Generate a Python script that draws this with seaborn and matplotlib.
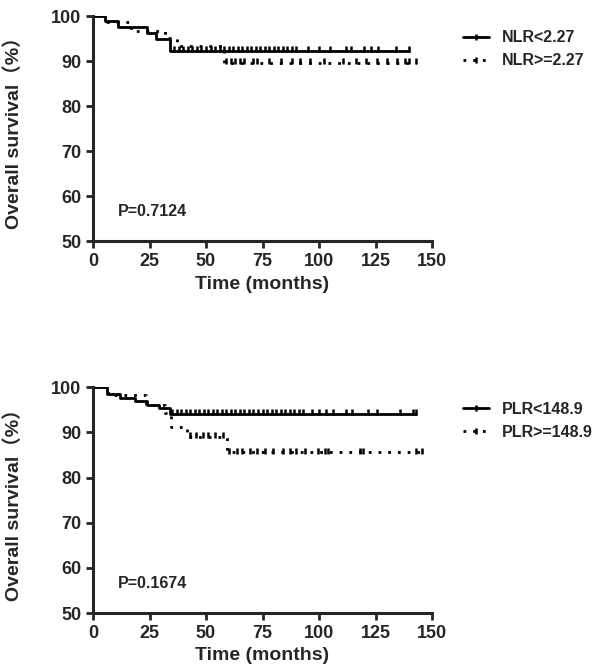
import numpy as np
import pandas as pd
import seaborn as sns
import matplotlib
matplotlib.use("Agg")
import matplotlib.pyplot as plt
from matplotlib.lines import Line2D

# step curves (time in months, survival in %)
nlr_low_t = [0, 5.5, 11, 24, 28, 34, 140]
nlr_low_s = [100, 99.0, 97.6, 96.2, 94.8, 92.3, 92.3]
nlr_high_t = [0, 6, 17, 32, 37, 58, 143]
nlr_high_s = [100, 98.6, 96.6, 95.2, 93.3, 89.6, 89.6]

plr_low_t = [0, 6, 12, 18.5, 24, 29, 34, 143]
plr_low_s = [100, 98.6, 97.7, 97.0, 96.0, 95.3, 94.1, 94.1]
plr_high_t = [0, 6.5, 23.5, 32, 34.5, 41.5, 59.5, 145.5]
plr_high_s = [100, 98.3, 96.0, 94.4, 91.2, 89.0, 85.6, 85.6]

# censored observations (months)
nlr_low_cens = [36, 38, 40, 42, 44, 46, 48, 50, 52, 54, 56, 58, 60, 62, 64, 66, 68,
                70, 72, 74, 76, 78, 80, 82, 84, 86, 88, 90, 95, 100, 105, 112,
                114, 120, 123, 126, 134, 140]
nlr_high_cens = [59, 61, 63, 65, 67, 71, 72.5, 78, 83, 88, 91.5, 96, 102, 110.5,
                 116.5, 121, 125.5, 130, 134.5, 138, 140, 143]
plr_low_cens = [35, 37, 39, 41, 43, 45, 47, 49, 51, 53, 55, 57, 59, 61, 63, 65, 67,
                69, 71, 73, 75, 77, 79, 81, 83, 85, 87, 89, 91, 93, 97, 100, 103,
                106, 112, 114.6, 121.7, 125.7, 136, 141.6, 143]
plr_high_cens = [43, 45.5, 48.5, 51, 54, 57.5, 60, 63.5, 66, 69.5, 72.5, 76, 79.6,
                 84, 87, 90, 94, 99.6, 102.6, 104, 118, 119.5, 143, 145.5]

panels = [
    ("NLR<2.27", "NLR>=2.27", nlr_low_t, nlr_low_s, nlr_high_t, nlr_high_s,
     nlr_low_cens, nlr_high_cens, "P=0.7124"),
    ("PLR<148.9", "PLR>=148.9", plr_low_t, plr_low_s, plr_high_t, plr_high_s,
     plr_low_cens, plr_high_cens, "P=0.1674"),
]

sns.set_style("ticks")
plt.rcParams['font.family'] = ['Liberation Sans', 'Noto Sans CJK SC', 'DejaVu Sans']
plt.rcParams['font.weight'] = 'bold'

fig = plt.figure(figsize=(6, 6.7), dpi=100)
axes = [fig.add_axes([0.155, 0.640, 0.565, 0.336]),
        fig.add_axes([0.155, 0.085, 0.565, 0.337])]

dotted = (0, (1, 2.5))


def step_value(t, s, x):
    i = np.searchsorted(t, x, side='right') - 1
    return s[i]


for ax, (lab1, lab2, t1, s1, t2, s2, c1, c2, ptxt) in zip(axes, panels):
    df1 = pd.DataFrame({"t": t1, "s": s1})
    df2 = pd.DataFrame({"t": t2, "s": s2})
    sns.lineplot(data=df1, x="t", y="s", ax=ax, color="black", lw=2,
                 drawstyle="steps-post", estimator=None)
    sns.lineplot(data=df2, x="t", y="s", ax=ax, color="black", lw=2,
                 drawstyle="steps-post", estimator=None, linestyle=dotted)
    # censor ticks sit just above the curve
    cd1 = pd.DataFrame({"t": c1, "s": [step_value(t1, s1, x) + 0.35 for x in c1]})
    cd2 = pd.DataFrame({"t": c2, "s": [step_value(t2, s2, x) + 0.35 for x in c2]})
    sns.scatterplot(data=cd1, x="t", y="s", ax=ax, marker="|", s=14,
                    color="black", linewidth=1.8)
    sns.scatterplot(data=cd2, x="t", y="s", ax=ax, marker="|", s=14,
                    color="black", linewidth=1.8)

    ax.set_xlim(0, 150)
    ax.set_ylim(50, 100)
    ax.set_xticks([0, 25, 50, 75, 100, 125, 150])
    ax.set_yticks([50, 60, 70, 80, 90, 100])
    ax.set_xlabel("Time (months)", fontsize=14, fontweight='bold')
    ax.set_ylabel("Overall survival\uff08%\uff09", fontsize=14, fontweight='bold')
    ax.yaxis.set_label_coords(-0.205, 0.5)
    for sp in ["left", "bottom"]:
        ax.spines[sp].set_linewidth(2.2)
    sns.despine(ax=ax)
    ax.tick_params(width=2, length=5, labelsize=13)
    for lbl in ax.get_xticklabels() + ax.get_yticklabels():
        lbl.set_fontweight('bold')
    ax.text(11, 55.5, ptxt, fontsize=11.5, fontweight='bold')

    handles = [Line2D([], [], color="black", lw=2, marker="|", markersize=5,
                      markeredgewidth=1.8),
               Line2D([], [], color="black", lw=2, linestyle=dotted, marker="|",
                      markersize=5, markeredgewidth=1.8)]
    ax.legend(handles, [lab1, lab2], loc="upper left", bbox_to_anchor=(1.05, 1.0),
              frameon=False, handlelength=1.6, numpoints=1,
              prop={'weight': 'bold', 'size': 11.5})

fig.savefig("out.png", dpi=100)
